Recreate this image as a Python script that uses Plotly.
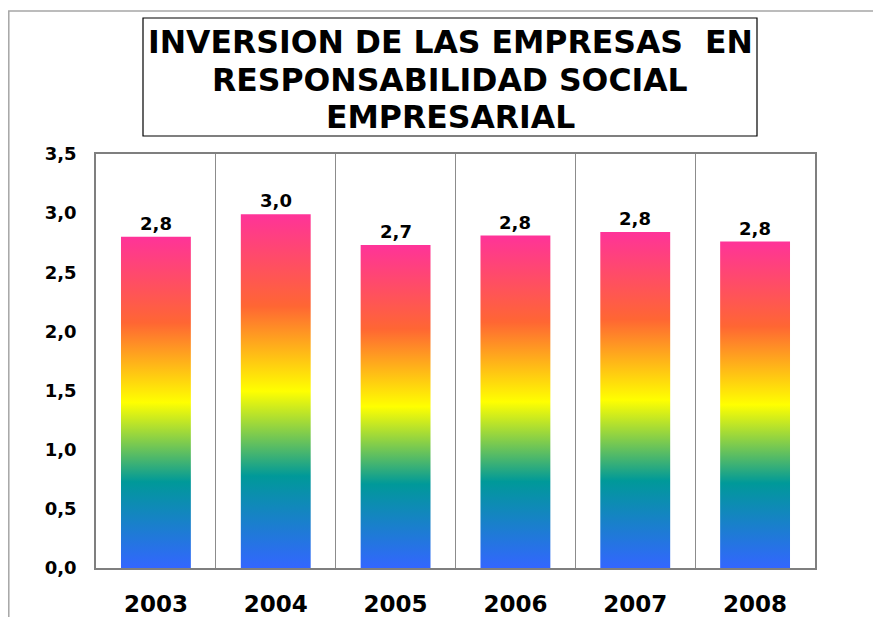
import plotly.graph_objects as go

# --- data -------------------------------------------------------------------
YEARS = ['2003', '2004', '2005', '2006', '2007', '2008']
INVERSION = [2.80, 2.99, 2.73, 2.81, 2.84, 2.76]
Y_TICKS = [0, 0.5, 1.0, 1.5, 2.0, 2.5, 3.0, 3.5]
TITLE_LINES = ['INVERSION DE LAS EMPRESAS  EN', 'RESPONSABILIDAD SOCIAL', 'EMPRESARIAL']

# --- style ------------------------------------------------------------------
FONT = 'DejaVu Sans'
BAR_WIDTH = 0.583
RAINBOW = [
    [0.0, '#3366ff'],
    [0.26, '#009999'],
    [0.5, '#ffff00'],
    [0.74, '#ff6633'],
    [1.0, '#ff3399'],
]

# page has an 8px body margin, so the figure is 16px smaller than the window
OFF = 8
W, H = 881 - 2 * OFF, 625 - 2 * OFF
M = dict(l=88, r=58, t=146, b=49)
PW = W - M['l'] - M['r']
PH = H - M['t'] - M['b']


def px_x(x):
    """window pixel x -> paper x"""
    return (x - OFF - M['l']) / PW


def px_y(y):
    """window pixel y -> paper y"""
    return (H - M['b'] - (y - OFF)) / PH


fig = go.Figure()

# bars carry the value labels, the gradient is painted on top of them
idx = list(range(len(YEARS)))
fig.add_trace(go.Bar(
    x=idx, y=INVERSION, width=BAR_WIDTH,
    marker=dict(color='rgba(0,0,0,0)', line_width=0),
    texttemplate='<b>%{y:.1f}</b>', textposition='outside',
    textfont=dict(family=FONT, size=18, color='black'),
    cliponaxis=False, hoverinfo='skip', showlegend=False,
))

for i, v in zip(idx, INVERSION):
    x0, x1 = i - BAR_WIDTH / 2, i + BAR_WIDTH / 2
    fig.add_trace(go.Scatter(
        x=[x0, x1, x1, x0, x0], y=[0, 0, v, v, 0],
        mode='lines', line=dict(width=0), fill='toself',
        fillgradient=dict(type='vertical', colorscale=RAINBOW),
        hovertemplate=f'{YEARS[i]}: %{{y:.1f}}<extra></extra>',
        showlegend=False,
    ))

# outer chart border and title box
fig.add_shape(type='rect', xref='paper', yref='paper',
              x0=px_x(8.8), x1=px_x(900), y0=px_y(660), y1=px_y(11),
              line=dict(color='#a6a6a6', width=1.5), layer='below')
fig.add_shape(type='rect', xref='paper', yref='paper',
              x0=px_x(143), x1=px_x(757), y0=px_y(136), y1=px_y(18),
              line=dict(color='black', width=1.2))
for line, ypix in zip(TITLE_LINES, [42, 80, 117]):
    fig.add_annotation(
        text=f'<b>{line}</b>', xref='paper', yref='paper',
        x=px_x(450), y=px_y(ypix), xanchor='center', yanchor='middle',
        showarrow=False, font=dict(family=FONT, size=31.5, color='black'),
    )

fig.update_layout(
    width=W, height=H, margin=M,
    paper_bgcolor='white', plot_bgcolor='white',
    separators=',.', bargap=0,
    font=dict(family=FONT, color='black'),
    xaxis=dict(
        range=[-0.5, len(YEARS) - 0.5], automargin=False,
        tickvals=idx, ticktext=[f'<b>{y}</b>' for y in YEARS],
        tickfont=dict(size=23), ticks='', showgrid=False, zeroline=False,
        ticklabelstandoff=15,
        minor=dict(tickvals=[i + 0.5 for i in idx[:-1]], showgrid=True,
                   gridcolor='#8c8c8c', gridwidth=1, ticks=''),
        showline=True, mirror=True, linecolor='#7f7f7f', linewidth=1.5,
        fixedrange=True,
    ),
    yaxis=dict(
        range=[0, 3.5], tickvals=Y_TICKS, automargin=False,
        ticktext=[f'<b>{t:.1f}</b>'.replace('.', ',') for t in Y_TICKS],
        tickfont=dict(size=18), ticks='', showgrid=False, zeroline=False,
        ticklabelstandoff=14,
        showline=True, mirror=True, linecolor='#7f7f7f', linewidth=1.5,
        fixedrange=True,
    ),
)

fig.write_html('out.html')
